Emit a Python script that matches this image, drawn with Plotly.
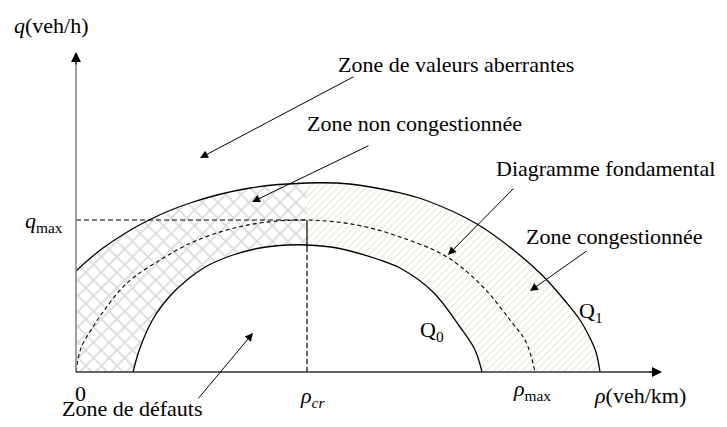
import plotly.graph_objects as go

# curves (rho, q) in drawing units
q1_rho = [0, 27, 71, 114, 174, 231, 274, 320, 349, 401, 440, 467, 490, 504, 514, 520, 524]
q1_q = [101, 124, 151, 169, 184, 189, 188, 180, 172, 148, 120, 96, 70, 52, 34, 20, 0]

fd_rho = [0, 5, 17, 27, 51, 84, 117, 151, 184, 231, 281, 324, 371, 407, 434, 450, 459]
fd_q = [0, 24, 45, 60, 89, 112, 130, 142, 149, 152, 147, 135, 115, 85, 52, 30, 0]

q0_rho = [57, 64, 77, 94, 111, 131, 157, 184, 211, 231, 261, 301, 324, 357, 384, 399, 406]
q0_q = [0, 24, 53, 76, 92, 106, 117, 124, 127, 127, 124, 113, 104, 80, 45, 22, 0]

rho_cr = 231
q_max = 152
x_end, y_end = 586, 320

FONT = "Liberation Serif"


def curve(x, y, **kw):
    return go.Scatter(x=x, y=y, mode="lines", line_shape="spline",
                      hoverinfo="skip", **kw)


fig = go.Figure()

# hatched zones
left = [i for i, r in enumerate(q1_rho) if r <= rho_cr]
right = [i for i, r in enumerate(q1_rho) if r >= rho_cr]
fig.add_trace(curve([q1_rho[i] for i in left], [q1_q[i] for i in left],
                    fill="tozeroy", line_width=0, fillcolor="white",
                    fillpattern=dict(shape="x", fgcolor="#b4b4b4", bgcolor="white",
                                     size=11, solidity=0.28)))
fig.add_trace(curve([q1_rho[i] for i in right], [q1_q[i] for i in right],
                    fill="tozeroy", line_width=0, fillcolor="white",
                    fillpattern=dict(shape="/", fgcolor="#dad7bb", bgcolor="white",
                                     size=5, solidity=0.3)))
fig.add_trace(curve(q0_rho, q0_q, fill="tozeroy", fillcolor="white", line_width=0))

# curves
fig.add_trace(curve(q1_rho, q1_q, line=dict(color="black", width=1.3)))
fig.add_trace(curve(q0_rho, q0_q, line=dict(color="black", width=1.3)))
fig.add_trace(curve(fd_rho, fd_q, line=dict(color="black", width=1.1, dash="4px,3px")))

# q_max / rho_cr guides
fig.add_trace(go.Scatter(x=[0, rho_cr], y=[q_max, q_max], mode="lines", hoverinfo="skip",
                         line=dict(color="black", width=1.2, dash="5px,3px")))
fig.add_trace(go.Scatter(x=[rho_cr, rho_cr], y=[q_max, 125], mode="lines", hoverinfo="skip",
                         line=dict(color="black", width=1.2)))
fig.add_trace(go.Scatter(x=[rho_cr, rho_cr], y=[125, 0], mode="lines", hoverinfo="skip",
                         line=dict(color="black", width=1.2, dash="5px,3px")))

# axes
fig.add_shape(type="line", x0=0, y0=0, x1=0, y1=y_end - 8, line=dict(color="#808080", width=1.5))
fig.add_shape(type="line", x0=0, y0=0, x1=x_end - 8, y1=0, line=dict(color="#333333", width=1.5))


def arrow(x0, y0, x1, y1, color="black", size=1.6):
    fig.add_annotation(x=x1, y=y1, ax=x0, ay=y0, xref="x", yref="y", axref="x", ayref="y",
                       text="", showarrow=True, arrowhead=2, arrowsize=size,
                       arrowwidth=1, arrowcolor=color, standoff=0, startstandoff=0)


arrow(0, y_end - 14, 0, y_end, size=2)
arrow(x_end - 14, 0, x_end, 0, size=2)

arrow(279, 296, 124, 214)
arrow(294, 227, 176, 170)
arrow(439, 185, 372, 117)
arrow(512, 122, 454, 81)
arrow(121, -28, 177, 39)


def label(x, y, text, size=22, anchor="center"):
    fig.add_annotation(x=x, y=y, xref="x", yref="y", text=text, showarrow=False,
                       xanchor=anchor, font=dict(family=FONT, size=size, color="black"))


label(380, 308, "Zone de valeurs aberrantes")
label(338, 249, "Zone non congestionnée")
label(641, 204, "Diagramme fondamental", anchor="right")
label(538, 136, "Zone congestionnée")
label(56, -36, "Zone de défauts")
label(4, -21, "0")
label(236, -25, "<i>ρ</i><sub><i>cr</i></sub>")
label(456, -18, "<i>ρ</i><sub>max</sub>")
label(564, -23, "<i>ρ</i>(veh/km)")
label(-32, 150, "<i>q</i><sub>max</sub>")
label(-25, 347, "<i>q</i>(veh/h)")
label(356, 41, "Q<sub>0</sub>")
label(515, 60, "Q<sub>1</sub>")

# page body keeps an 8px margin, so the figure is 16px smaller than the window
fig.update_layout(
    width=711, height=411, margin=dict(l=0, r=0, t=0, b=0),
    plot_bgcolor="white", paper_bgcolor="white", showlegend=False,
    xaxis=dict(range=[-68, 643], visible=False),
    yaxis=dict(range=[-47, 364], visible=False),
)

fig.write_html("out.html")
